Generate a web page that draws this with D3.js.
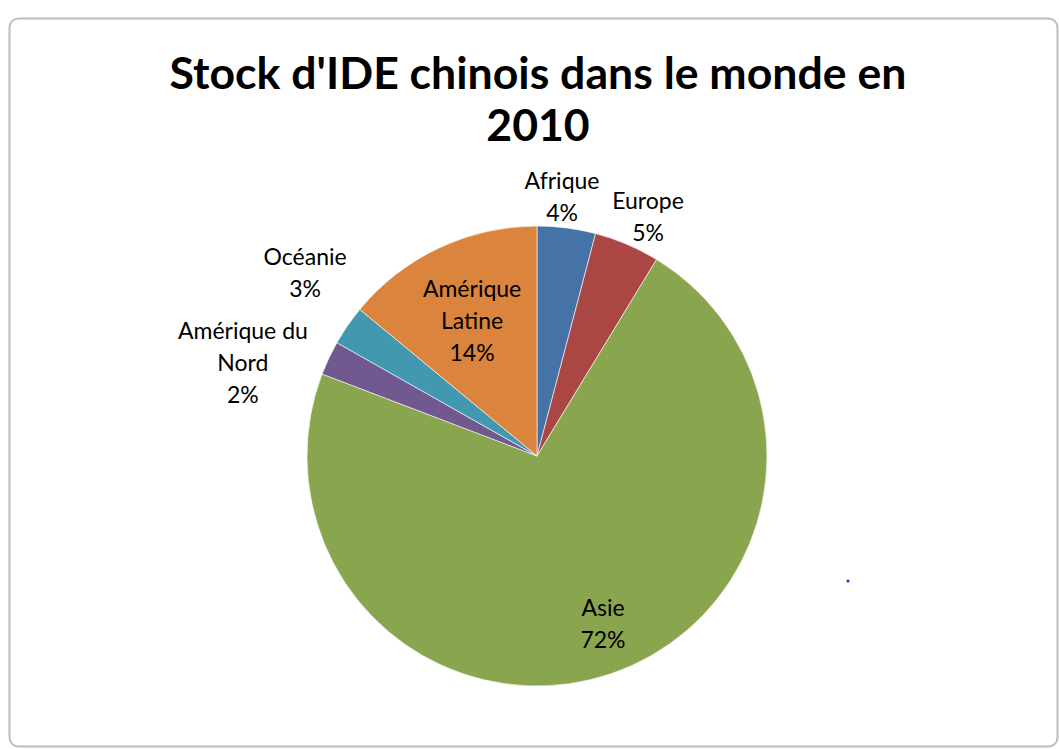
<!DOCTYPE html>
<html><head><meta charset="utf-8">
<script src="https://cdn.jsdelivr.net/npm/d3@7"></script>
<style>html,body{margin:0;padding:0;background:#fff;}svg{display:block;}</style>
</head><body>
<svg id="c" width="1059" height="749"></svg>
<script>
// ---- data ----
const categories = ["Afrique", "Europe", "Asie", "Amérique du Nord", "Océanie", "Amérique Latine"];
const labelLines = [["Afrique"], ["Europe"], ["Asie"], ["Amérique du", "Nord"], ["Océanie"], ["Amérique", "Latine"]];
const values = [4.1, 4.6, 72.1, 2.4, 2.8, 14.0];
const colors = ["#4572A7", "#AA4643", "#89A54E", "#71588F", "#4198AF", "#DB843D"];
const titleLines = ["Stock d'IDE chinois dans le monde en", "2010"];

// ---- layout (label offsets relative to slice edge point at mid-angle) ----
const cx = 537, cy = 456, R = 230;
const labelOffset = {
  "Afrique": [-4.5, -31], "Europe": [21, -27], "Asie": [-8.5, -50],
  "Amérique du Nord": [-86, 5], "Océanie": [-42.5, -53], "Amérique Latine": [33, 73]
};
const FONT = "Lato, 'Open Sans', sans-serif";

const svg = d3.select("#c");

// chart border
svg.append("rect").attr("x", 9.5).attr("y", 18.5).attr("width", 1048).attr("height", 728)
  .attr("rx", 9).attr("fill", "#fff").attr("stroke", "#bcbcbc").attr("stroke-width", 2);

// title
const title = svg.append("text").attr("text-anchor", "middle")
  .attr("font-family", FONT).attr("font-weight", 700).attr("fill", "#000");
titleLines.forEach((t, i) => title.append("tspan").attr("x", 538).attr("y", 89 + i * 52).text(t));
title.attr("font-size", 44);
const w0 = title.select("tspan").node().getComputedTextLength();
title.attr("font-size", 44 * 737 / w0);

const data = categories.map((c, i) => ({name: c, value: values[i], color: colors[i], lines: labelLines[i]}));
const pie = d3.pie().value(d => d.value).sort(null);
const arcs = pie(data);
const arc = d3.arc().innerRadius(0).outerRadius(R);

const g = svg.append("g").attr("transform", `translate(${cx},${cy})`);
g.selectAll("path").data(arcs).join("path")
  .attr("d", arc).attr("fill", d => d.data.color)
  .attr("stroke", "#ffffff").attr("stroke-opacity", 0.6).attr("stroke-width", 1);

// labels
const lineH = 32;
arcs.forEach(a => {
  const mid = (a.startAngle + a.endAngle) / 2;
  const ex = Math.sin(mid) * R, ey = -Math.cos(mid) * R;
  const off = labelOffset[a.data.name];
  const lx = ex + off[0], ly = ey + off[1];
  const lines = a.data.lines.concat([Math.round(a.data.value) + "%"]);
  const t = g.append("text").attr("text-anchor", "middle")
    .attr("font-family", FONT).attr("font-size", 23).attr("fill", "#000");
  const y0 = ly - (lines.length - 1) * lineH / 2 + 8;
  lines.forEach((s, i) => t.append("tspan").attr("x", lx).attr("y", y0 + i * lineH).text(s));
});

// stray dot
svg.append("circle").attr("cx", 848).attr("cy", 581).attr("r", 1.6).attr("fill", "#2a2aff");
</script>
</body></html>
